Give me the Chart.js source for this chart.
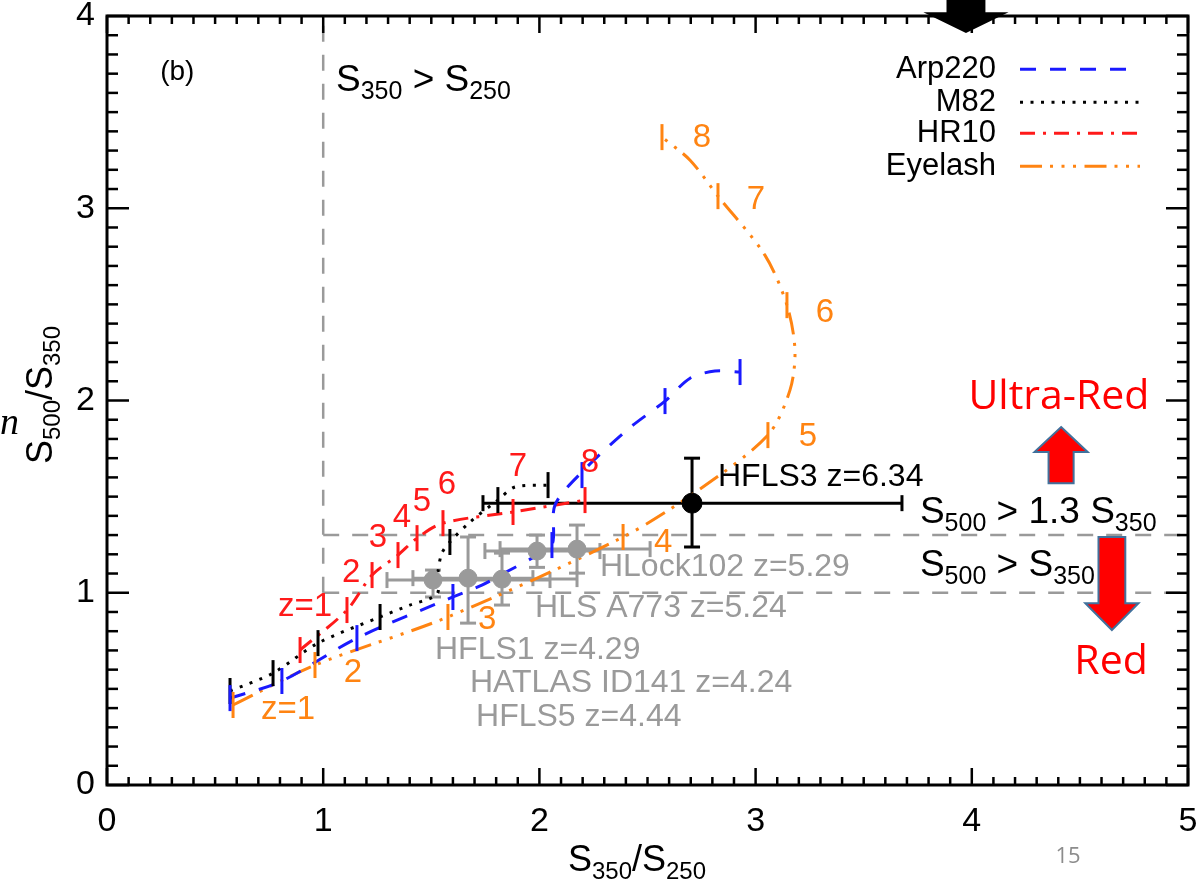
<!DOCTYPE html>
<html>
<head>
<meta charset="utf-8">
<script src="https://cdn.jsdelivr.net/npm/chart.js@4.4.0/dist/chart.umd.min.js"></script>
<style>
  html, body { margin: 0; background: #fff; }
</style>
</head>
<body>
<canvas id="colourChart" width="1204" height="886"></canvas>
<script>
// =====================
// Data
// =====================
const xTickVals = [0, 1, 2, 3, 4, 5];
const yTickVals = [0, 1, 2, 3, 4];

// Arp220 track
const arpX = [0.569, 0.809, 1.156, 1.600, 1.734, 1.855, 1.966, 2.058, 2.072, 2.197, 2.410, 2.581, 2.697, 2.812, 2.928];
const arpY = [0.452, 0.541, 0.764, 0.978, 1.040, 1.113, 1.180, 1.248, 1.456, 1.628, 1.851, 1.997, 2.116, 2.153, 2.148];
const arpZx = [0.569, 0.809, 1.156, 1.600, 2.058, 2.197, 2.581, 2.928];
const arpZy = [0.452, 0.541, 0.764, 0.978, 1.248, 1.612, 1.997, 2.148];

// M82 track
const m82X = [0.569, 0.768, 0.976, 1.263, 1.401, 1.526, 1.531, 1.549, 1.586, 1.679, 1.808, 1.887, 2.040];
const m82Y = [0.489, 0.582, 0.738, 0.874, 0.936, 0.993, 1.108, 1.206, 1.264, 1.368, 1.482, 1.550, 1.560];
const m82Zx = [0.569, 0.768, 0.976, 1.263, 1.586, 1.808, 2.040];
const m82Zy = [0.489, 0.582, 0.738, 0.874, 1.264, 1.482, 1.560];

// HR10 track (z = 1..8)
const hrX = [0.893, 1.110, 1.226, 1.346, 1.434, 1.554, 1.878, 2.211];
const hrY = [0.702, 0.910, 1.092, 1.196, 1.284, 1.362, 1.420, 1.482];
const hrLab = ['z=1', '2', '3', '4', '5', '6', '7', '8'];
const hrLabX = [0.916, 1.129, 1.253, 1.364, 1.457, 1.572, 1.901, 2.234];
const hrLabY = [0.926, 1.102, 1.284, 1.388, 1.472, 1.560, 1.654, 1.674];

// Eyelash track
const eyeX = [0.583, 0.962, 1.577, 2.387, 2.743, 3.057, 3.159, 3.182, 3.145, 3.043, 2.826, 2.697, 2.567];
const eyeY = [0.416, 0.624, 0.874, 1.290, 1.540, 1.820, 2.054, 2.262, 2.496, 2.756, 3.063, 3.250, 3.370];
const eyeZx = [0.583, 0.962, 1.577, 2.387, 3.057, 3.145, 2.826, 2.567];
const eyeZy = [0.416, 0.624, 0.874, 1.290, 1.820, 2.496, 3.063, 3.370];
const eyeLab = ['z=1', '2', '3', '4', '5', '6', '7', '8'];
const eyeLabX = [0.837, 1.138, 1.758, 2.572, 3.242, 3.321, 3.002, 2.752];
const eyeLabY = [0.390, 0.582, 0.858, 1.258, 1.810, 2.454, 3.042, 3.365];

// Sources (grey) with error bars
const srcX   = [1.508, 1.670, 1.827, 1.989, 2.174];
const srcY   = [1.066, 1.076, 1.071, 1.217, 1.227];
const srcXlo = [1.295, 1.415, 1.494, 1.748, 1.818];
const srcXhi = [2.049, 1.970, 2.174, 2.280, 2.512];
const srcYlo = [0.978, 0.842, 0.936, 1.132, 1.102];
const srcYhi = [1.118, 1.290, 1.206, 1.300, 1.352];
const srcNames = ['HLock102 z=5.29', 'HLS A773 z=5.24', 'HFLS1 z=4.29', 'HATLAS ID141 z=4.24', 'HFLS5 z=4.44'];
const srcNameX = [2.280, 1.980, 1.517, 1.679, 1.707];
const srcNameY = [1.134, 0.920, 0.702, 0.530, 0.354];

// HFLS3
const hfls3 = { x: 2.706, y: 1.466, xlo: 1.739, xhi: 3.677, ylo: 1.238, yhi: 1.700 };

// colour cuts
const cutX = 1;
const cutY = [1, 1.3];

// =====================
// Styles
// =====================
const BLUE = '#1a1aff', RED = '#ff1a1a', ORANGE = '#ff8412', GREY = '#9a9a9a';
const FONT = '"Liberation Sans", Arial, sans-serif';
const dashArp = [16, 14];
const dashM82 = [3, 7.5];
const dashHr = [15, 8, 3, 8];
const dashEye = [22, 8, 3, 8.5, 3, 8.5, 3, 8.5];

const pts = (xs, ys) => xs.map((v, i) => ({ x: v, y: ys[i] }));

function track(xs, ys, color, dash) {
  return {
    data: pts(xs, ys), showLine: true, borderColor: color, borderWidth: 3,
    borderDash: dash, pointRadius: 0, tension: 0.3, order: 3
  };
}
function zMarks(xs, ys, color) {
  return {
    data: pts(xs, ys), showLine: false, pointStyle: 'line', pointRotation: 90,
    pointRadius: 13, borderColor: color, pointBorderColor: color, pointBorderWidth: 3, order: 2
  };
}

// =====================
// Helpers de desenho
// =====================
function seg(ctx, x1, y1, x2, y2) {
  ctx.beginPath(); ctx.moveTo(x1, y1); ctx.lineTo(x2, y2); ctx.stroke();
}
function errBar(ctx, X, Y, x, y, xlo, xhi, ylo, yhi, color) {
  const px = X.getPixelForValue(x), py = Y.getPixelForValue(y);
  const a = X.getPixelForValue(xlo), b = X.getPixelForValue(xhi);
  const c = Y.getPixelForValue(ylo), d = Y.getPixelForValue(yhi);
  ctx.strokeStyle = color; ctx.lineWidth = 3; ctx.setLineDash([]);
  seg(ctx, a, py, b, py); seg(ctx, px, c, px, d);
  seg(ctx, a, py - 8, a, py + 8); seg(ctx, b, py - 8, b, py + 8);
  seg(ctx, px - 8, c, px + 8, c); seg(ctx, px - 8, d, px + 8, d);
}
// text with subscripts: parts = [[str, isSub], ...]
function subText(ctx, parts, x, y, size, align) {
  const sub = Math.round(size * 0.68);
  let w = 0;
  parts.forEach(([s, isSub]) => { ctx.font = `${isSub ? sub : size}px ${FONT}`; w += ctx.measureText(s).width; });
  let cx = align === 'center' ? x - w / 2 : x;
  ctx.textAlign = 'left'; ctx.textBaseline = 'alphabetic';
  parts.forEach(([s, isSub]) => {
    ctx.font = `${isSub ? sub : size}px ${FONT}`;
    ctx.fillText(s, cx, isSub ? y + size * 0.22 : y);
    cx += ctx.measureText(s).width;
  });
}
function poly(ctx, list, fill, stroke) {
  ctx.beginPath();
  list.forEach(([a, b], i) => i ? ctx.lineTo(a, b) : ctx.moveTo(a, b));
  ctx.closePath();
  ctx.fillStyle = fill; ctx.fill();
  if (stroke) { ctx.strokeStyle = stroke; ctx.lineWidth = 2; ctx.setLineDash([]); ctx.stroke(); }
}
// vertical block arrow in data units
function blockArrow(ctx, X, Y, cx, tip, base, tail, headHalf, shaftHalf, fill, stroke) {
  const px = v => X.getPixelForValue(v), py = v => Y.getPixelForValue(v);
  poly(ctx, [
    [px(cx), py(tip)], [px(cx + headHalf), py(base)], [px(cx + shaftHalf), py(base)],
    [px(cx + shaftHalf), py(tail)], [px(cx - shaftHalf), py(tail)], [px(cx - shaftHalf), py(base)],
    [px(cx - headHalf), py(base)]
  ], fill, stroke);
}

// =====================
// Plugin: cortes, barras de erro, moldura, textos
// =====================
const decor = {
  id: 'decor',
  beforeDatasetsDraw(chart) {
    const { ctx, scales: { x: X, y: Y } } = chart;
    ctx.save();
    ctx.strokeStyle = GREY; ctx.lineWidth = 2.5; ctx.setLineDash([16, 13]);
    seg(ctx, X.getPixelForValue(cutX), Y.getPixelForValue(cutY[0]), X.getPixelForValue(cutX), Y.getPixelForValue(4));
    cutY.forEach(v => seg(ctx, X.getPixelForValue(cutX), Y.getPixelForValue(v), X.getPixelForValue(5), Y.getPixelForValue(v)));
    srcX.forEach((v, i) => errBar(ctx, X, Y, v, srcY[i], srcXlo[i], srcXhi[i], srcYlo[i], srcYhi[i], GREY));
    errBar(ctx, X, Y, hfls3.x, hfls3.y, hfls3.xlo, hfls3.xhi, hfls3.ylo, hfls3.yhi, '#000');
    ctx.restore();
  },
  afterDraw(chart) {
    const { ctx, chartArea: a, scales: { x: X, y: Y } } = chart;
    const px = v => X.getPixelForValue(v), py = v => Y.getPixelForValue(v);
    ctx.save();
    ctx.setLineDash([]);

    // frame + inward ticks
    ctx.strokeStyle = '#000'; ctx.lineWidth = 3;
    ctx.strokeRect(a.left, a.top, a.right - a.left, a.bottom - a.top);
    ctx.lineWidth = 2.5;
    for (let i = 0; i <= 50; i++) {
      const p = px(i / 10), len = i % 10 === 0 ? 17 : 8;
      seg(ctx, p, a.bottom, p, a.bottom - len); seg(ctx, p, a.top, p, a.top + len);
    }
    for (let i = 0; i <= 40; i++) {
      const p = py(i / 10), len = i % 10 === 0 ? 22 : 11;
      seg(ctx, a.left, p, a.left + len, p); seg(ctx, a.right, p, a.right - len, p);
    }

    // axis titles
    ctx.fillStyle = '#000';
    subText(ctx, [['S', 0], ['350', 1], ['/S', 0], ['250', 1]], 637, 871, 36, 'center');
    ctx.save();
    ctx.translate(52, 395); ctx.rotate(-Math.PI / 2);
    subText(ctx, [['S', 0], ['500', 1], ['/S', 0], ['350', 1]], 0, 0, 36, 'center');
    ctx.restore();

    // panel texts
    ctx.font = `28px ${FONT}`; ctx.textAlign = 'center'; ctx.textBaseline = 'middle';
    ctx.fillText('(b)', px(0.325), py(3.708));
    subText(ctx, [['S', 0], ['350', 1], [' > S', 0], ['250', 1]], px(1.059), py(3.609), 37, 'left');
    subText(ctx, [['S', 0], ['500', 1], [' > 1.3 S', 0], ['350', 1]], px(3.760), py(1.362), 37, 'left');
    subText(ctx, [['S', 0], ['500', 1], [' > S', 0], ['350', 1]], px(3.760), py(1.087), 37, 'left');

    // legend
    const legNames = ['Arp220', 'M82', 'HR10', 'Eyelash'];
    const legCols = [BLUE, '#000', RED, ORANGE];
    const legDash = [dashArp, dashM82, dashHr, dashEye];
    const legY = [3.723, 3.551, 3.390, 3.219];
    legNames.forEach((n, i) => {
      ctx.font = `31px ${FONT}`; ctx.fillStyle = '#000';
      ctx.textAlign = 'right'; ctx.textBaseline = 'middle';
      ctx.fillText(n, px(4.112), py(legY[i]));
      ctx.strokeStyle = legCols[i]; ctx.lineWidth = 3; ctx.setLineDash(legDash[i]);
      seg(ctx, px(4.223), py(legY[i]), px(4.778), py(legY[i]));
    });
    ctx.setLineDash([]);

    // redshift labels
    ctx.font = `33px ${FONT}`; ctx.textAlign = 'center'; ctx.textBaseline = 'middle';
    ctx.fillStyle = RED;
    hrLab.forEach((s, i) => ctx.fillText(s, px(hrLabX[i]), py(hrLabY[i])));
    ctx.fillStyle = ORANGE;
    eyeLab.forEach((s, i) => ctx.fillText(s, px(eyeLabX[i]), py(eyeLabY[i])));

    // source names
    ctx.font = `32px ${FONT}`; ctx.textAlign = 'left';
    ctx.fillStyle = GREY;
    srcNames.forEach((s, i) => ctx.fillText(s, px(srcNameX[i]), py(srcNameY[i])));
    ctx.fillStyle = '#000';
    ctx.fillText('HFLS3 z=6.34', px(2.826), py(1.602));

    // slide annotations
    ctx.font = `41px "Open Sans", sans-serif`; ctx.textAlign = 'center'; ctx.fillStyle = '#ff0000';
    ctx.fillText('Ultra-Red', px(4.403), py(2.018));
    ctx.fillText('Red', px(4.644), py(0.640));
    blockArrow(ctx, X, Y, 4.413, 1.862, 1.732, 1.570, 0.123, 0.058, '#ff0000', '#41719c');
    blockArrow(ctx, X, Y, 4.648, 0.806, 0.946, 1.290, 0.123, 0.062, '#ff0000', '#41719c');
    blockArrow(ctx, X, Y, 3.973, 3.911, 4.020, 4.100, 0.197, 0.090, '#000', null);

    ctx.font = `22px "Open Sans", sans-serif`; ctx.fillStyle = '#8c8c8c';
    ctx.fillText('15', 1068, 857);
    ctx.font = `italic 38px "Liberation Serif", serif`; ctx.fillStyle = '#000'; ctx.textAlign = 'left';
    ctx.textBaseline = 'alphabetic';
    ctx.fillText('n', 0, 434);
    ctx.restore();
  }
};

// =====================
// Chart
// =====================
const ctx = document.getElementById('colourChart').getContext('2d');
const tickFont = { family: FONT, size: 34 };

new Chart(ctx, {
  type: 'scatter',
  data: {
    datasets: [
      track(arpX, arpY, BLUE, dashArp),
      track(m82X, m82Y, '#000', dashM82),
      track(hrX, hrY, RED, dashHr),
      track(eyeX, eyeY, ORANGE, dashEye),
      zMarks(arpZx, arpZy, BLUE),
      zMarks(m82Zx, m82Zy, '#000'),
      zMarks(hrX, hrY, RED),
      zMarks(eyeZx, eyeZy, ORANGE),
      { data: pts(srcX, srcY), pointRadius: 9, backgroundColor: GREY, borderColor: GREY, order: 1 },
      { data: [{ x: hfls3.x, y: hfls3.y }], pointRadius: 10, backgroundColor: '#000', borderColor: '#000', order: 0 }
    ]
  },
  options: {
    responsive: false,
    animation: false,
    events: [],
    layout: { padding: { top: 16, right: 15, left: 0, bottom: 0 } },
    plugins: { legend: { display: false }, tooltip: { enabled: false } },
    scales: {
      x: {
        type: 'linear', min: 0, max: 5,
        afterBuildTicks: s => { s.ticks = xTickVals.map(v => ({ value: v })); },
        grid: { display: false, drawTicks: false }, border: { display: false },
        ticks: { font: tickFont, color: '#000', padding: 16, maxRotation: 0, autoSkip: false },
        afterFit: s => { s.height = 101; s.paddingLeft = 0; s.paddingRight = 0; }
      },
      y: {
        type: 'linear', min: 0, max: 4,
        afterBuildTicks: s => { s.ticks = yTickVals.map(v => ({ value: v })); },
        grid: { display: false, drawTicks: false }, border: { display: false },
        ticks: { font: tickFont, color: '#000', padding: 12, autoSkip: false },
        afterFit: s => { s.width = 107; s.paddingTop = 0; s.paddingBottom = 0; }
      }
    }
  },
  plugins: [decor]
});
</script>
</body>
</html>
